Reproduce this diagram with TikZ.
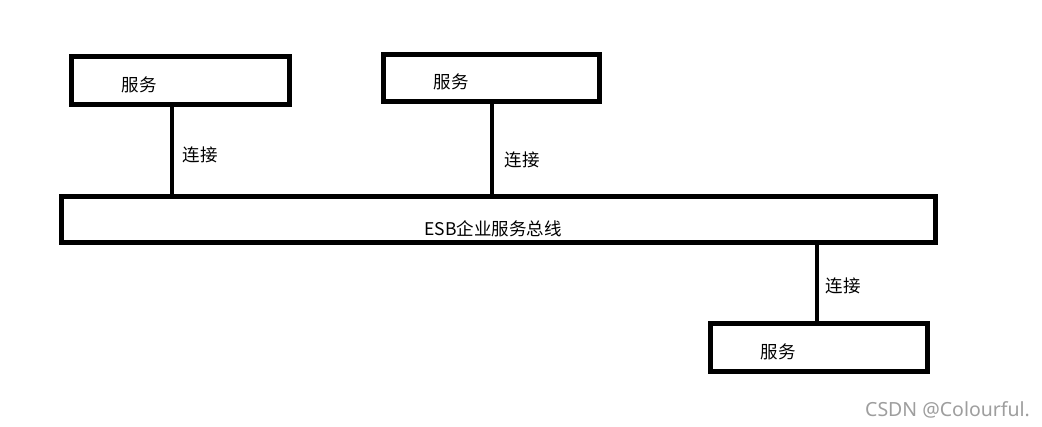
\documentclass[tikz,border=0pt]{standalone}
\usepackage{fontspec}
\newfontfamily\cjk{Noto Sans CJK SC}
\newfontfamily\wm{Noto Sans}
\begin{document}
\begin{tikzpicture}[x=1pt,y=-1pt,
  svcbox/.style={draw=black,line width=5pt,rectangle,inner sep=0pt,outer sep=0pt,fill=white},
  conn/.style={draw=black,line width=4pt},
  lbl/.style={font=\cjk\fontsize{17.5}{20}\selectfont,inner sep=0pt,text=black}]
\useasboundingbox[fill=white] (0,0) rectangle (1042,427);
% boxes
\node[svcbox,minimum width=218pt,minimum height=48pt] (b1) at (180.5,80.5) {};
\node[svcbox,minimum width=216pt,minimum height=47pt] (b2) at (491.5,78) {};
\node[svcbox,minimum width=217pt,minimum height=48pt] (b3) at (819,347.5) {};
\node[svcbox,minimum width=874pt,minimum height=46pt] (bus) at (498.5,219.5) {};
% texts
\node[lbl] (t1) at (139,85) {服务};
\node[lbl] (t2) at (451,82) {服务};
\node[lbl] (t3) at (778,352) {服务};
\node[lbl] (tb) at (493,229) {ESB企业服务总线};
% connector x positions
\coordinate (x1) at (171.5,0);
\coordinate (x2) at (491.5,0);
\coordinate (x3) at (817,0);
\draw[conn] (b1.south -| x1) -- (bus.north -| x1);
\draw[conn] (b2.south -| x2) -- (bus.north -| x2);
\draw[conn] (bus.south -| x3) -- (b3.north -| x3);
% connector labels
\node[lbl] (l1) at (200,155) {连接};
\node[lbl] (l2) at (522,160) {连接};
\node[lbl] (l3) at (843,286) {连接};
% watermark
\node[font=\wm\fontsize{19.5}{22}\selectfont,text=black!38,inner sep=0pt,anchor=west] (wmk) at (865,410) {CSDN @Colourful.};
\end{tikzpicture}
\end{document}
